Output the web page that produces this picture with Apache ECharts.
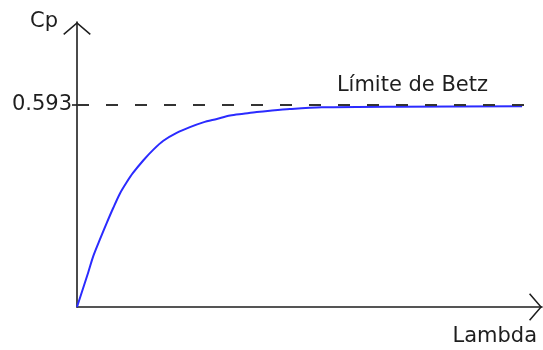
<!DOCTYPE html>
<html>
<head>
<meta charset="utf-8">
<script src="https://cdn.jsdelivr.net/npm/echarts@6/dist/echarts.min.js"></script>
<style>
  html, body { margin: 0; padding: 0; background: #fff; }
  #chart { width: 543px; height: 350px; }
</style>
</head>
<body>
<div id="chart"></div>
<script>
// Cp vs tip speed ratio
const lambda = [0, 0.34, 0.49, 0.69, 0.89, 1.09, 1.29, 1.50, 1.68, 2.00, 2.30, 2.60, 3.00, 3.40, 3.80, 4.21, 4.61, 5.01, 5.41, 5.81, 6.41, 7.37, 9.73, 13.4];
const cp = [0, 0.102, 0.149, 0.198, 0.245, 0.290, 0.332, 0.366, 0.392, 0.430, 0.461, 0.487, 0.510, 0.527, 0.541, 0.551, 0.561, 0.566, 0.571, 0.575, 0.580, 0.585, 0.587, 0.588];

const betz = 0.593;
const betzLineX = [0, 13.7];
const betzLabelX = 10.1;
const yTicks = [betz];

const font = 'DejaVu Sans';
const ink = '#1e1e1e';
const chevron = 'path://M0,12 L14,0 L28,12 L27,13.2 L14,2 L1,13.2 Z';

document.addEventListener("DOMContentLoaded", () => {
    const chart = echarts.init(document.getElementById('chart'));

    const option = {
        animation: false,
        grid: { left: 77, right: 1, top: 22, bottom: 43 },
        xAxis: {
            type: 'value',
            min: 0,
            max: 14,
            name: 'Lambda',
            nameLocation: 'end',
            nameGap: -5,
            nameTextStyle: {
                fontFamily: font, fontSize: 21, color: ink,
                align: 'right', verticalAlign: 'top', padding: [19, 0, 0, 0]
            },
            axisLine: {
                lineStyle: { color: ink, width: 1.6 },
                symbol: ['none', chevron],
                symbolSize: [28, 13],
                symbolOffset: [0, -6.5]
            },
            axisTick: { show: false },
            axisLabel: { show: false },
            splitLine: { show: false }
        },
        yAxis: {
            type: 'value',
            min: 0,
            max: 0.835,
            name: 'Cp',
            nameLocation: 'end',
            nameGap: 0,
            nameTextStyle: {
                fontFamily: font, fontSize: 21, color: ink,
                align: 'right', verticalAlign: 'middle', padding: [0, 19, 0, 0]
            },
            axisLine: {
                show: true,
                lineStyle: { color: ink, width: 1.6 },
                symbol: ['none', chevron],
                symbolSize: [28, 13],
                symbolOffset: [0, -6.5]
            },
            axisTick: {
                show: true, length: 5, customValues: yTicks,
                lineStyle: { color: ink, width: 1.6 }
            },
            axisLabel: {
                customValues: yTicks,
                margin: 5,
                fontFamily: font, fontSize: 21, color: ink,
                formatter: (v) => v.toFixed(3)
            },
            splitLine: { show: false }
        },
        series: [
            {
                type: 'line',
                data: lambda.map((x, i) => [x, cp[i]]),
                symbol: 'none',
                smooth: 0.3,
                lineStyle: { color: '#2b2bff', width: 2 },
                z: 3
            },
            {
                type: 'line',
                data: [],
                symbol: 'none',
                markLine: {
                    silent: true,
                    symbol: 'none',
                    label: { show: false },
                    lineStyle: { color: '#333', width: 2, type: [12, 17] },
                    data: [[{ coord: [betzLineX[0], betz] }, { coord: [betzLineX[1], betz] }]]
                },
                markPoint: {
                    silent: true,
                    symbolSize: 0,
                    label: {
                        show: true,
                        position: 'inside',
                        offset: [0, -19],
                        formatter: 'Límite de Betz',
                        fontFamily: font, fontSize: 21, color: ink
                    },
                    data: [{ coord: [betzLabelX, betz] }]
                },
                z: 2
            }
        ]
    };

    chart.setOption(option);
});
</script>
</body>
</html>
